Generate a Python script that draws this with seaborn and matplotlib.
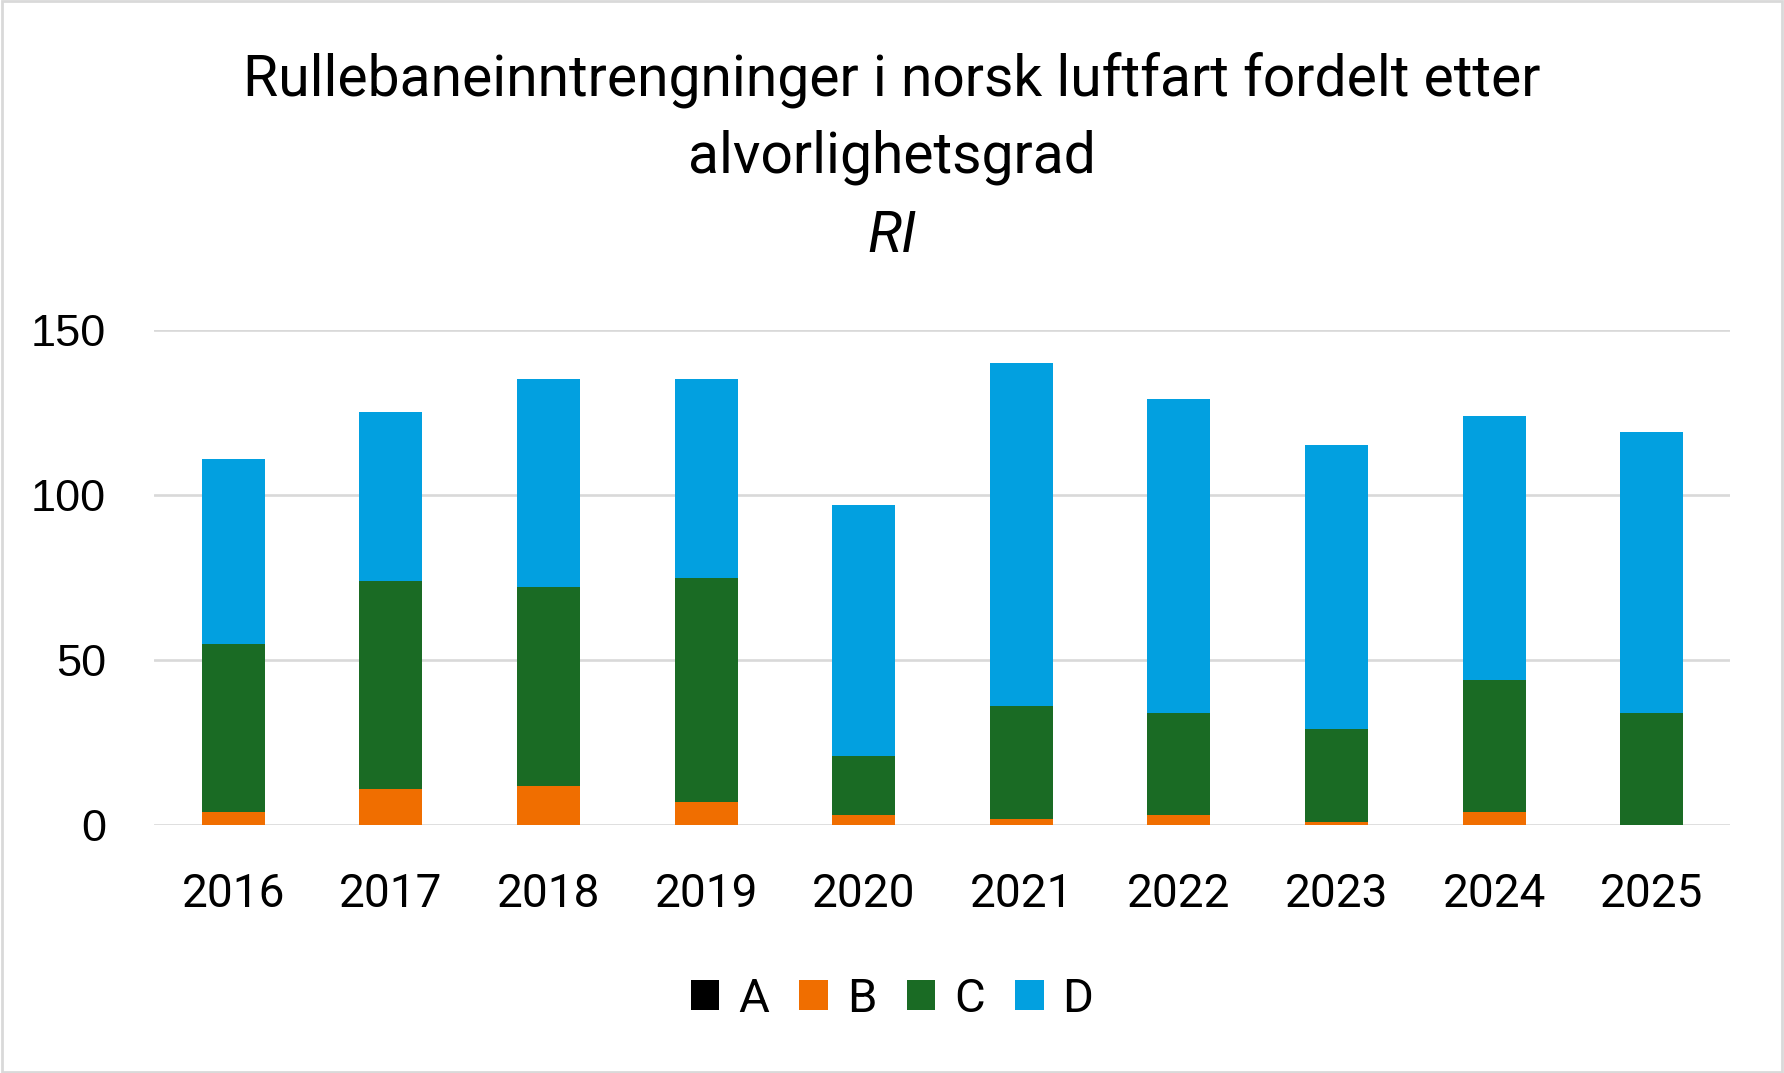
import numpy as np
import pandas as pd
import seaborn as sns
import matplotlib.pyplot as plt
from matplotlib.patches import Patch, Rectangle

# Data
years = ["2016", "2017", "2018", "2019", "2020", "2021", "2022", "2023", "2024", "2025"]
a_vals = [0, 0, 0, 0, 0, 0, 0, 0, 0, 0]
b_vals = [4, 11, 12, 7, 3, 2, 3, 1, 4, 0]
c_vals = [51, 63, 60, 68, 18, 34, 31, 28, 40, 34]
d_vals = [56, 51, 63, 60, 76, 104, 95, 86, 80, 85]

series_names = ["A", "B", "C", "D"]
colors = {"A": "#000000", "B": "#F06E00", "C": "#1A6B24", "D": "#02A0E0"}

sns.set_theme(style="white")
plt.rcParams["font.family"] = ["Roboto", "DejaVu Sans"]
plt.rcParams["text.color"] = "black"

df = pd.DataFrame({"year": years, "A": a_vals, "B": b_vals, "C": c_vals, "D": d_vals})
# cumulative heights for stacking (draw tallest first)
df["cum_A"] = df["A"]
df["cum_B"] = df["cum_A"] + df["B"]
df["cum_C"] = df["cum_B"] + df["C"]
df["cum_D"] = df["cum_C"] + df["D"]

fig = plt.figure(figsize=(17.84, 10.73), dpi=100)
ax = fig.add_axes([0.0866, 0.231, 0.8834, 0.4615])

for name in ["D", "C", "B", "A"]:
    sns.barplot(data=df, x="year", y="cum_" + name, color=colors[name],
                width=0.4, saturation=1, ax=ax, zorder=3,
                edgecolor="none", linewidth=0)

ax.set_ylim(0, 150)
ax.set_xlim(-0.5, len(years) - 0.5)
ax.set_yticks([0, 50, 100, 150])
ax.yaxis.grid(True, color="#D9D9D9", linewidth=1.9, zorder=0)
ax.set_axisbelow(True)
for s in ax.spines.values():
    s.set_visible(False)
ax.set_xlabel("")
ax.set_ylabel("")
ax.tick_params(axis="both", length=0, labelsize=33, colors="black")
ax.tick_params(axis="x", pad=34)
ax.tick_params(axis="y", pad=35, labelsize=32.5)
for lbl in ax.get_yticklabels():
    lbl.set_family("Liberation Sans")

# title lines
fig.text(0.5, 0.926, "Rullebaneinntrengninger i norsk luftfart fordelt etter",
         ha="center", va="center", fontsize=41)
fig.text(0.5, 0.853, "alvorlighetsgrad", ha="center", va="center", fontsize=41)
fig.text(0.5, 0.780, "RI", ha="center", va="center", fontsize=41, style="italic")

handles = [Patch(facecolor=colors[n], edgecolor="none", label=n) for n in series_names]
fig.legend(handles=handles, loc="center", bbox_to_anchor=(0.5, 0.069), ncol=4,
           frameon=False, fontsize=34, handlelength=0.6, handleheight=0.6,
           handletextpad=0.4, columnspacing=0.65)

# light border around the chart area
fig.patches.append(Rectangle((0.001, 0.001), 0.998, 0.998, transform=fig.transFigure,
                             fill=False, edgecolor="#D9D9D9", linewidth=2))

fig.savefig("out.png", dpi=100, facecolor="white")
